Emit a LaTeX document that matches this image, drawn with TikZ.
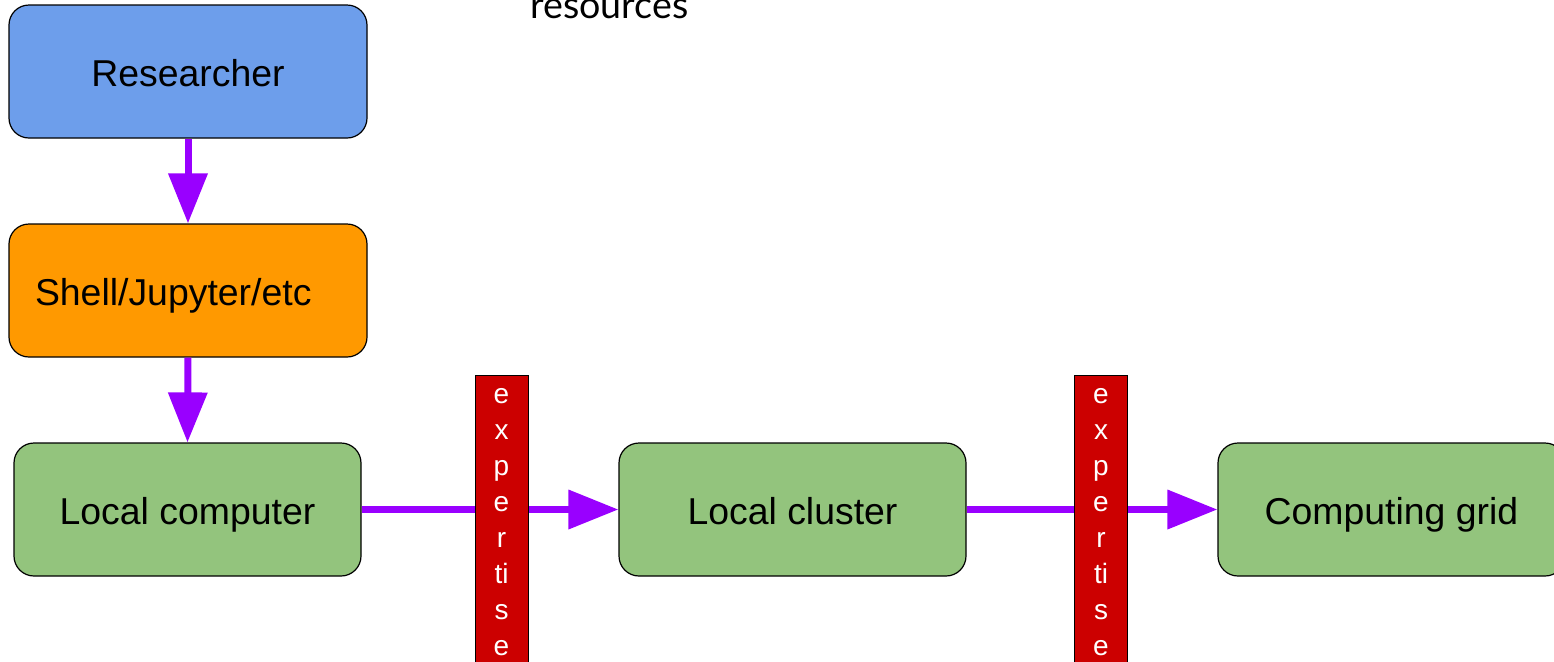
\documentclass[tikz,border=0pt]{standalone}
\usepackage{fontspec}
\setmainfont{Liberation Sans}
\newfontfamily\latofont{Lato}
\usetikzlibrary{arrows.meta}
\definecolor{rblue}{HTML}{6D9EEB}
\definecolor{rorange}{HTML}{FF9900}
\definecolor{rgreen}{HTML}{93C47D}
\definecolor{rred}{HTML}{CC0000}
\definecolor{rpurple}{HTML}{9900FF}
\tikzset{
  box/.style={draw=black, line width=0.6pt, rounded corners=10pt, minimum width=174pt, minimum height=66.5pt, font=\fontsize{18.7}{22}\selectfont, inner sep=0pt, text height=15pt, text depth=0pt},
  bar/.style={draw=black, line width=0.5pt, fill=rred, minimum width=26.5pt, minimum height=150pt, text=white, inner sep=0pt, anchor=north, font=\fontsize{14}{18}\selectfont, align=center, text depth=4pt},
  flow/.style={draw=rpurple, line width=3.5pt, -{Triangle[length=25pt,width=19pt]}, rpurple},
}
\begin{document}
\begin{tikzpicture}[x=0.5pt,y=-0.5pt]
\useasboundingbox (0,0) rectangle (1554,661);
\clip (0,0) rectangle (1554,661);
\node[font=\latofont\fontsize{18.8}{20}\selectfont, anchor=base west, inner sep=0pt] (res) at (530,18) {resources};
\node[box, fill=rblue, minimum width=179pt] (researcher) at (188,71.5) {Researcher};
\node[box, fill=rorange, minimum width=179pt, text width=153pt, inner xsep=13pt, align=left] (shell) at (188,290.5) {Shell/Jupyter/etc};
\node[box, fill=rgreen, minimum width=173.5pt] (local) at (187.5,509.5) {Local computer};
\node[box, fill=rgreen, minimum width=173.5pt] (cluster) at (792.5,509.5) {Local cluster};
\node[box, fill=rgreen, minimum width=173.5pt] (grid) at (1391.5,509.5) {Computing grid};
\draw[flow] (researcher.south) -- (shell.north);
\draw[flow] (shell.south) -- (local.north);
\draw[flow] (local.east) -- (cluster.west);
\draw[flow] (cluster.east) -- (grid.west);
\node[bar] (exp1) at (501.5,375) {e\\x\\p\\e\\r\\ti\\s\\e};
\node[bar] (exp2) at (1101,375) {e\\x\\p\\e\\r\\ti\\s\\e};
\end{tikzpicture}
\end{document}
